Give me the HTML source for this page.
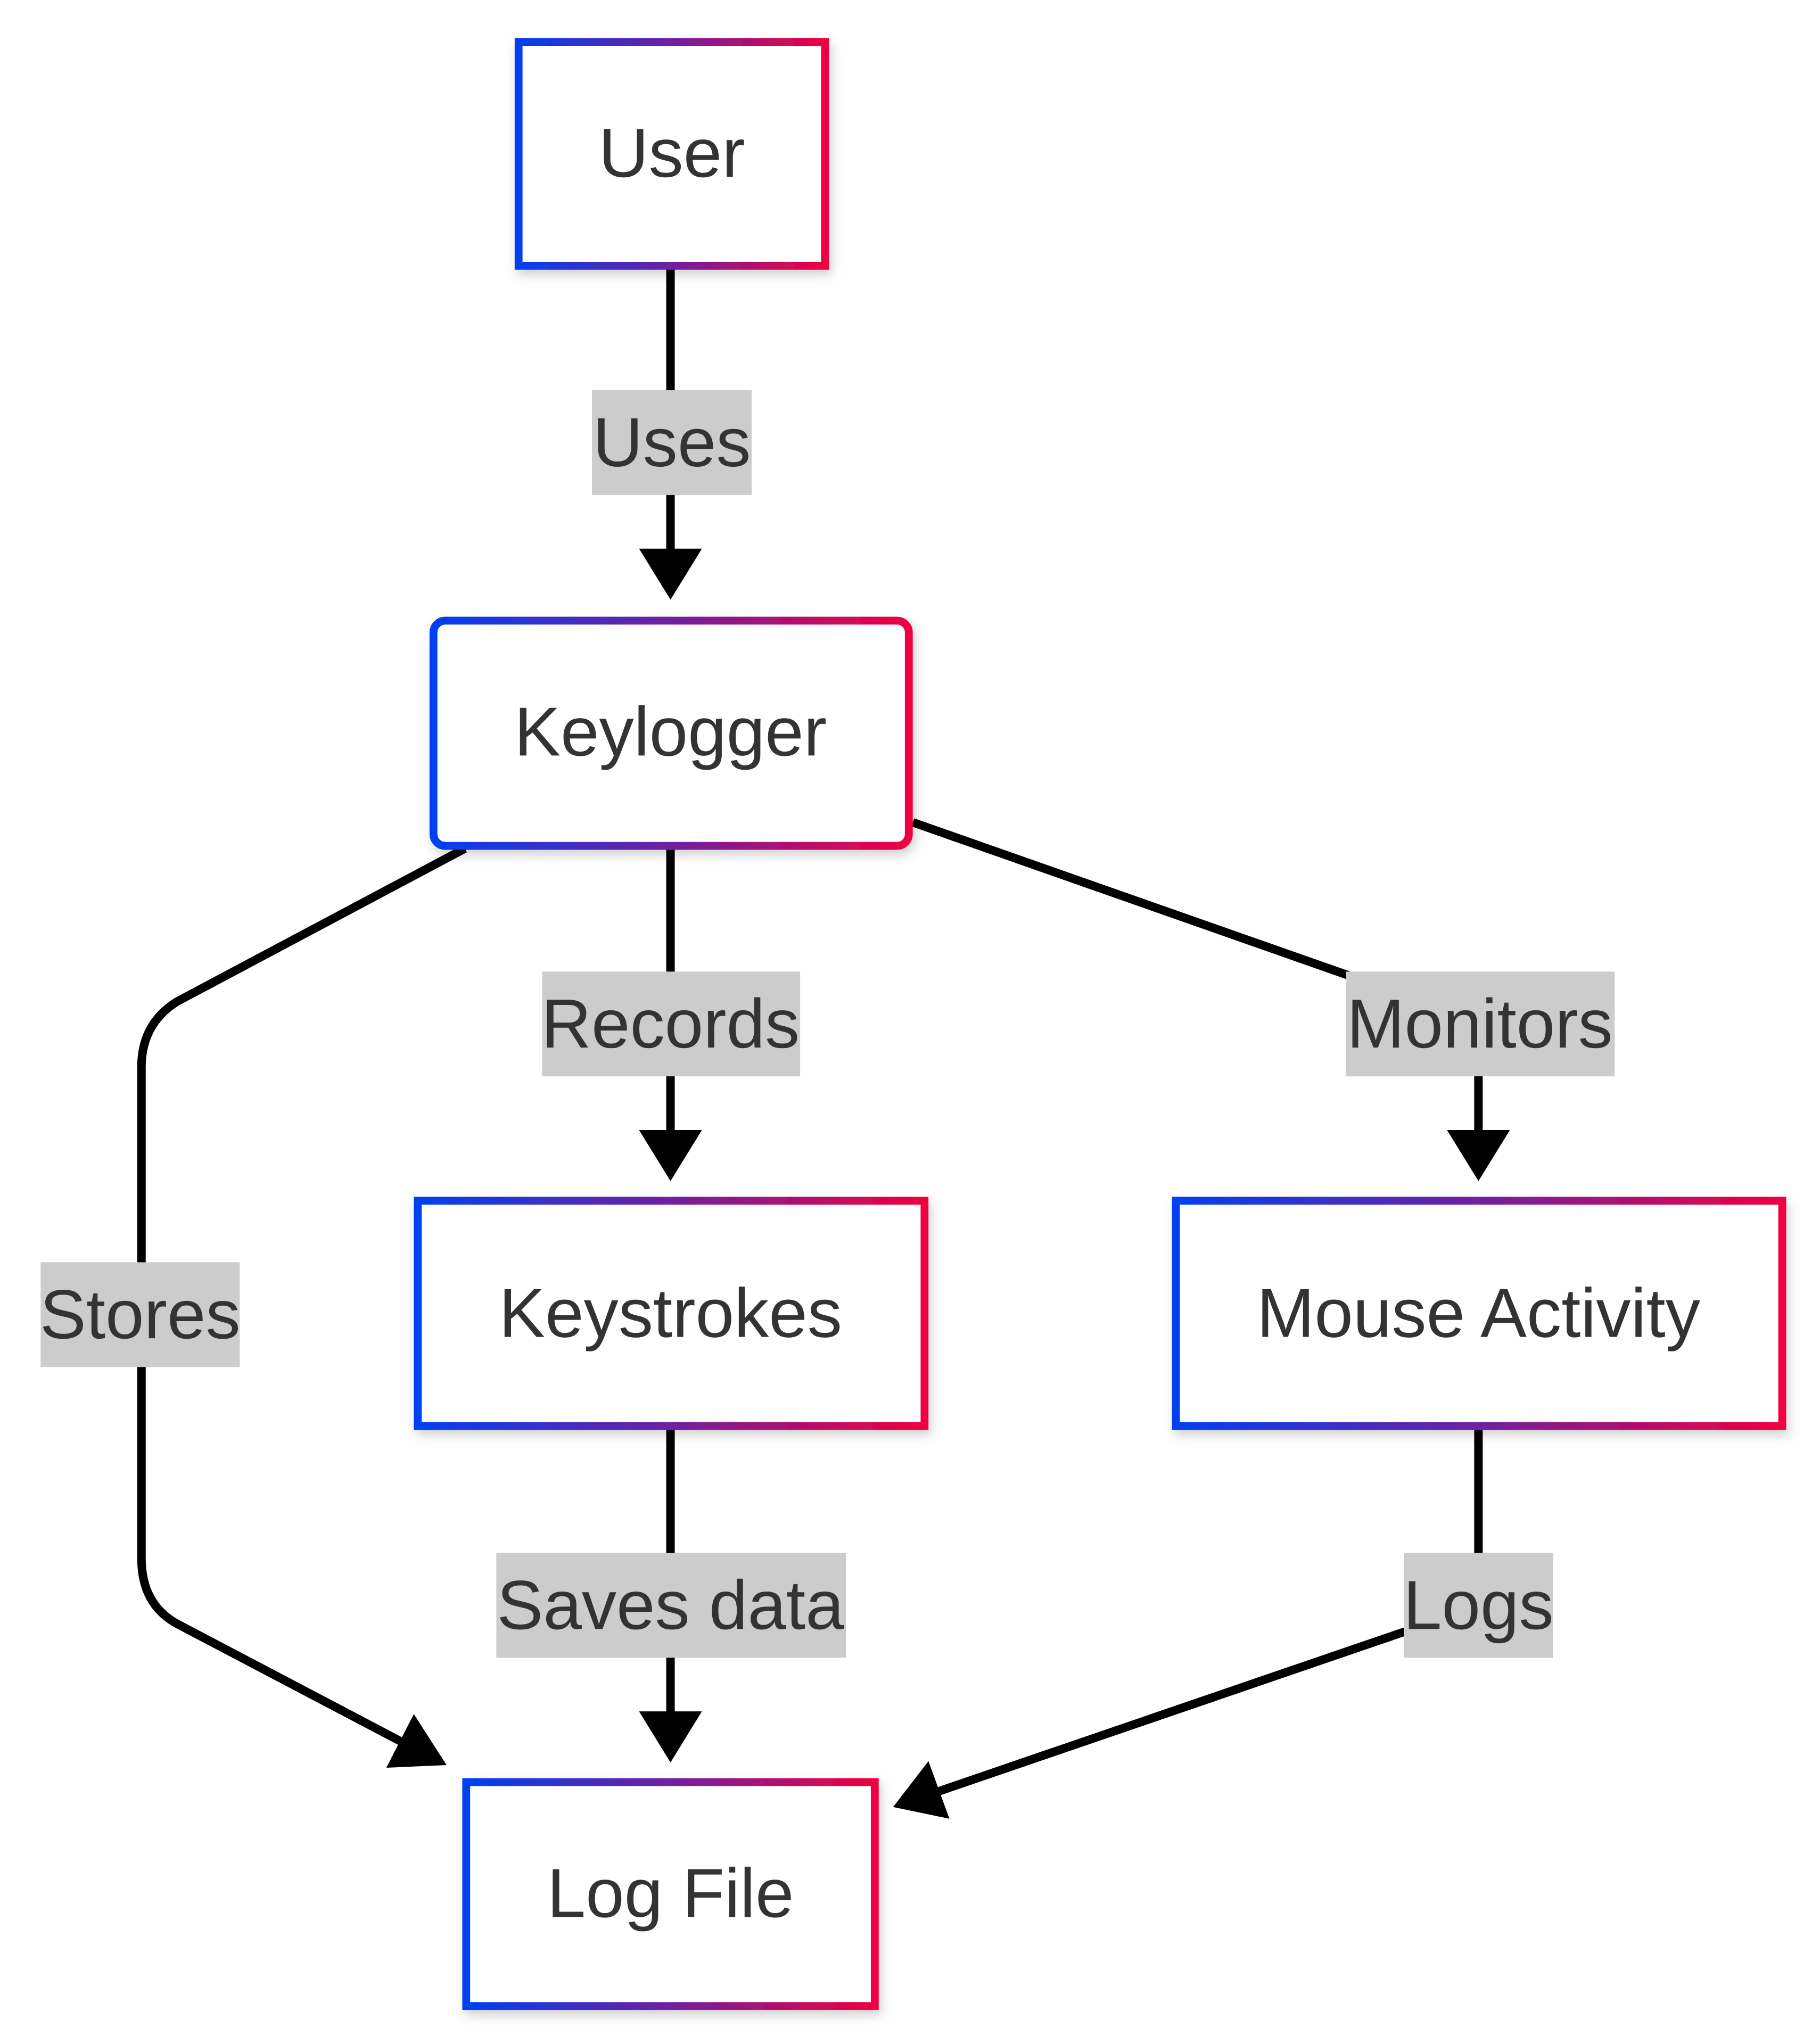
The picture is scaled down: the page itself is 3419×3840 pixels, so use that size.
<!DOCTYPE html>
<html><head><meta charset="utf-8"><style>html,body{margin:0;padding:0;background:#fff}svg{display:block}</style></head>
<body>
<svg width="3419" height="3840" viewBox="0 0 1389.8 1561" xmlns="http://www.w3.org/2000/svg" font-family="'Liberation Sans', Arial, sans-serif">
<defs>
<linearGradient id="g" x1="0" y1="0" x2="1" y2="0"><stop offset="0" stop-color="#0040f0"/><stop offset="0.5" stop-color="#7020a0"/><stop offset="1" stop-color="#f00040"/></linearGradient>
<filter id="sh" x="-20%" y="-20%" width="140%" height="150%"><feDropShadow dx="2" dy="4" stdDeviation="4" flood-color="#000" flood-opacity="0.18"/></filter>
</defs>
<g fill="none" stroke="#000" stroke-width="6.5">
<path d="M512,204 L512,425"/>
<path d="M512,647 L512,868"/>
<path d="M697,628 L1030,745 Q1129,780 1129,790 L1129,868"/>
<path d="M355,648 L135,765 Q108,782 108,815 L108,1190 Q108,1225 135,1240 L310,1332"/>
<path d="M512,1090 L512,1312"/>
<path d="M1129,1090 L1129,1200 Q1129,1230 1070,1247 L714,1369"/>
</g>
<g fill="#000">
<polygon points="488,419 536,419 512,458"/>
<polygon points="488,863 536,863 512,902"/>
<polygon points="1105,863 1153,863 1129,902"/>
<polygon points="488,1307 536,1307 512,1346"/>
<polygon points="295,1350 316,1309 341,1348"/>
<polygon points="682,1380 725,1389 709,1345"/>
</g>
<g fill="#fff" stroke="url(#g)" stroke-width="6" filter="url(#sh)">
<rect x="396" y="32" width="234" height="171"/>
<rect x="331" y="474" width="363" height="172" rx="9"/>
<rect x="319" y="917" width="387" height="172"/>
<rect x="898" y="917" width="463" height="172"/>
<rect x="356" y="1361" width="312" height="171"/>
</g>
<g fill="#ccc">
<rect x="452" y="298" width="122" height="80"/>
<rect x="414" y="742" width="197" height="80"/>
<rect x="1028" y="742" width="205" height="80"/>
<rect x="31" y="964" width="152" height="80"/>
<rect x="379" y="1186" width="267" height="80"/>
<rect x="1072" y="1186" width="114" height="80"/>
</g>
<g fill="#333" font-size="53" text-anchor="middle">
<text x="513" y="135">User</text>
<text x="512" y="577">Keylogger</text>
<text x="512" y="1021">Keystrokes</text>
<text x="1129" y="1021">Mouse Activity</text>
<text x="512" y="1464">Log File</text>
<text x="513" y="356">Uses</text>
<text x="512" y="800">Records</text>
<text x="1130" y="800">Monitors</text>
<text x="107" y="1022">Stores</text>
<text x="512" y="1244">Saves data</text>
<text x="1129" y="1244">Logs</text>
</g>
</svg>
</body></html>
